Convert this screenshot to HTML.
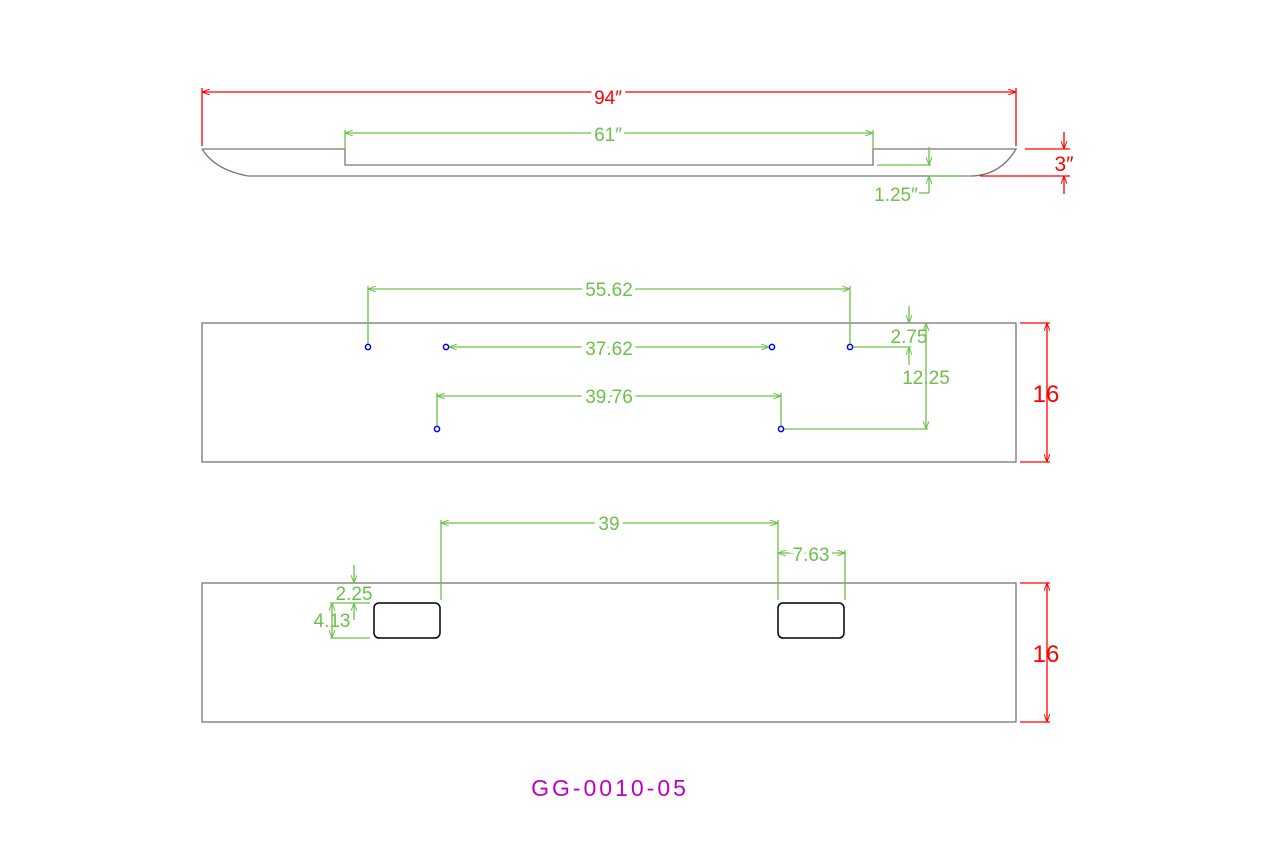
<!DOCTYPE html>
<html><head><meta charset="utf-8"><style>
html,body{margin:0;padding:0;background:#fff;}
svg{display:block;}
text{font-family:"Liberation Sans",sans-serif;}
</style></head><body>
<svg width="1280" height="853" viewBox="0 0 1280 853" xmlns="http://www.w3.org/2000/svg">
<defs>
<marker id="ag" markerWidth="8" markerHeight="6" refX="8" refY="3" orient="auto-start-reverse" markerUnits="userSpaceOnUse"><path d="M0,0 L8,3 L0,6" fill="none" stroke="#6cc04a" stroke-width="1"/></marker>
<marker id="ar" markerWidth="8" markerHeight="6" refX="8" refY="3" orient="auto-start-reverse" markerUnits="userSpaceOnUse"><path d="M0,0 L8,3 L0,6" fill="none" stroke="#f00" stroke-width="1"/></marker>
</defs>
<g fill="none" stroke-width="1.3">
<path d="M202,149 L345,149 L345,165 L873,165 L873,149 L1016,149 Q1000,176 970,176 L248,176 Q215,170 202,149" stroke="#777"/>
<line x1="930" y1="176" x2="970" y2="176" stroke="#6cc04a"/>
<g stroke="#f00">
<line x1="202" y1="88" x2="202" y2="146"/><line x1="1016" y1="88" x2="1016" y2="146"/>
<line x1="202" y1="92" x2="1016" y2="92" marker-start="url(#ar)" marker-end="url(#ar)"/>
<line x1="1025" y1="149" x2="1070" y2="149"/><line x1="980" y1="176" x2="1070" y2="176"/>
<line x1="1064" y1="132" x2="1064" y2="149" marker-end="url(#ar)"/>
<line x1="1064" y1="194" x2="1064" y2="176" marker-end="url(#ar)"/>
</g>
<g stroke="#6cc04a">
<line x1="345" y1="130" x2="345" y2="149"/><line x1="873" y1="130" x2="873" y2="149"/>
<line x1="345" y1="133" x2="873" y2="133" marker-start="url(#ag)" marker-end="url(#ag)"/>
<line x1="877" y1="165" x2="931" y2="165"/>
<line x1="929" y1="147" x2="929" y2="165" marker-end="url(#ag)"/>
<line x1="929" y1="193" x2="929" y2="176" marker-end="url(#ag)"/>
<line x1="919" y1="193" x2="929" y2="193"/>
</g>
<rect x="202" y="323" width="814" height="139" stroke="#777"/>
<g stroke="#6cc04a">
<line x1="368" y1="286" x2="368" y2="344"/><line x1="850" y1="286" x2="850" y2="344"/>
<line x1="368" y1="289" x2="850" y2="289" marker-start="url(#ag)" marker-end="url(#ag)"/>
<line x1="449" y1="347" x2="769" y2="347" marker-start="url(#ag)" marker-end="url(#ag)"/>
<line x1="437" y1="393" x2="437" y2="426"/><line x1="781" y1="393" x2="781" y2="426"/>
<line x1="437" y1="396" x2="781" y2="396" marker-start="url(#ag)" marker-end="url(#ag)"/>
<line x1="853" y1="347" x2="911" y2="347"/>
<line x1="909" y1="306" x2="909" y2="323" marker-end="url(#ag)"/>
<line x1="909" y1="365" x2="909" y2="347" marker-end="url(#ag)"/>
<line x1="926" y1="323" x2="926" y2="429" marker-start="url(#ag)" marker-end="url(#ag)"/>
<line x1="784" y1="429" x2="928" y2="429"/>
</g>
<g stroke="#00f" stroke-width="1.5">
<circle cx="368" cy="347" r="2.6"/><circle cx="446" cy="347" r="2.6"/><circle cx="772" cy="347" r="2.6"/><circle cx="850" cy="347" r="2.6"/><circle cx="437" cy="429" r="2.6"/><circle cx="781" cy="429" r="2.6"/>
</g>
<g stroke="#f00">
<line x1="1020" y1="323" x2="1050" y2="323"/><line x1="1020" y1="462" x2="1050" y2="462"/>
<line x1="1047" y1="323" x2="1047" y2="462" marker-start="url(#ar)" marker-end="url(#ar)"/>
<line x1="1020" y1="583" x2="1050" y2="583"/><line x1="1020" y1="722" x2="1050" y2="722"/>
<line x1="1047" y1="583" x2="1047" y2="722" marker-start="url(#ar)" marker-end="url(#ar)"/>
</g>
<rect x="202" y="583" width="814" height="139" stroke="#777"/>
<rect x="374" y="603" width="66" height="35" rx="5" stroke="#000" stroke-width="1.5"/>
<rect x="778" y="603" width="66" height="35" rx="5" stroke="#000" stroke-width="1.5"/>
<g stroke="#6cc04a">
<line x1="441" y1="520" x2="441" y2="600"/><line x1="778" y1="520" x2="778" y2="600"/>
<line x1="441" y1="523" x2="778" y2="523" marker-start="url(#ag)" marker-end="url(#ag)"/>
<line x1="845" y1="550" x2="845" y2="600"/>
<line x1="778" y1="553" x2="845" y2="553" marker-start="url(#ag)" marker-end="url(#ag)"/>
<line x1="354" y1="565" x2="354" y2="583" marker-end="url(#ag)"/>
<line x1="354" y1="620" x2="354" y2="603" marker-end="url(#ag)"/>
<line x1="330" y1="603" x2="370" y2="603"/><line x1="330" y1="638" x2="370" y2="638"/>
<line x1="332" y1="603" x2="332" y2="638" marker-start="url(#ag)" marker-end="url(#ag)"/>
</g>
</g>
<g font-size="19" fill="#6cc04a" text-anchor="middle">
<text x="608" y="104" fill="#f00" stroke="#fff" stroke-width="8" paint-order="stroke">94″</text>
<text x="608" y="141" stroke="#fff" stroke-width="8" paint-order="stroke">61″</text>
<text x="1064" y="171" fill="#f00" font-size="21">3″</text>
<text x="896" y="201">1.25″</text>
<text x="609" y="296" stroke="#fff" stroke-width="8" paint-order="stroke">55.62</text>
<text x="609" y="355" stroke="#fff" stroke-width="8" paint-order="stroke">37.62</text>
<text x="609" y="403" stroke="#fff" stroke-width="8" paint-order="stroke">39.76</text>
<text x="909" y="343">2.75</text>
<text x="926" y="384">12.25</text>
<text x="609" y="530" stroke="#fff" stroke-width="8" paint-order="stroke">39</text>
<text x="811" y="561" stroke="#fff" stroke-width="8" paint-order="stroke">7.63</text>
<text x="354" y="600">2.25</text>
<text x="332" y="627">4.13</text>
<text x="1046" y="402" fill="#f00" font-size="24">16</text>
<text x="1046" y="662" fill="#f00" font-size="24">16</text>
<text x="610" y="796" fill="#c000c0" font-size="23" letter-spacing="3" font-weight="normal">GG-0010-05</text>
</g>
</svg>
</body></html>
